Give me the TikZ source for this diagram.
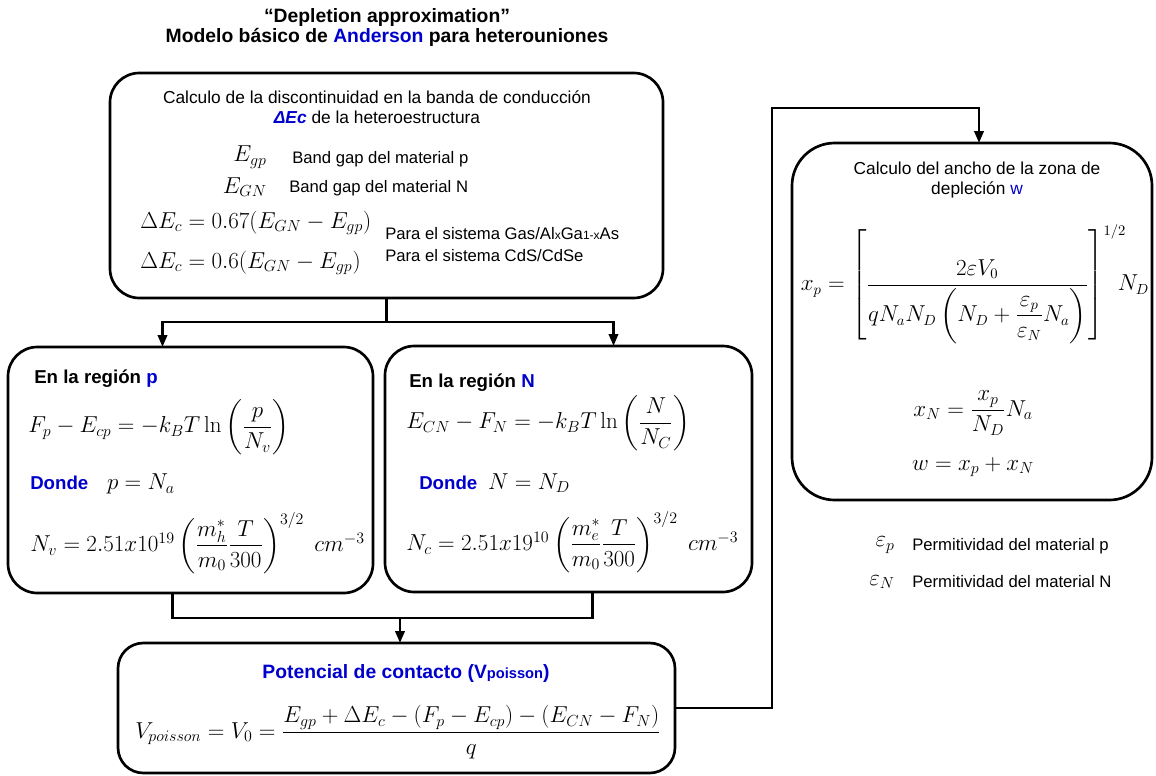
\documentclass[tikz,border=0pt]{standalone}
\usepackage{amsmath}
\usepackage[no-math]{fontspec}
\setmainfont{Liberation Sans}
\usetikzlibrary{arrows.meta,calc}
\definecolor{RegionBlue}{RGB}{0,0,204}

\begin{document}
\begin{tikzpicture}[
  x=0.75pt, y=-0.75pt,
  box/.style={draw, line width=2pt, rounded corners=22pt, inner sep=0pt, outer sep=0pt},
  wire/.style={line width=2pt},
  arr/.style={line width=2pt, -{Triangle[length=9pt,width=7pt]}},
  txt/.style={font=\fontsize{13}{15}\selectfont, inner sep=0pt},
  lbl/.style={font=\fontsize{12.5}{15}\selectfont, inner sep=0pt},
  head/.style={font=\fontsize{14}{17}\selectfont\bfseries, inner sep=0pt},
  eq/.style={font=\fontsize{17}{20}\selectfont, inner sep=0pt}
]
  \useasboundingbox (0,0) rectangle (1156,775);

  % Title
  \node[head, font=\fontsize{14.5}{15}\selectfont\bfseries, align=center] (title) at (387,27)
    {“Depletion approximation”\\Modelo básico de {\color{RegionBlue}Anderson} para heterouniones};

  % Boxes
  \node[box, minimum width=414.75pt, minimum height=168.75pt] (top) at (386.5,185.5) {};
  \node[box, minimum width=273.75pt, minimum height=184.5pt] (pbox) at (190.5,470) {};
  \node[box, minimum width=275.25pt, minimum height=184.5pt] (nbox) at (568.5,469) {};
  \node[box, rounded corners=19pt, minimum width=417.75pt, minimum height=97.5pt] (bot) at (396.5,708) {};
  \node[box, rounded corners=32pt, minimum width=270pt, minimum height=267.75pt] (depl) at (972,321.5) {};

  % Discontinuity in the conduction band
  \node[txt, align=center] (topHead) at (377,107)
    {Calculo de la discontinuidad en la banda de conducción\\
     {\color{RegionBlue}\bfseries\itshape ΔEc} de la heteroestructura};
  \node[eq, anchor=east] (egp) at (267,157) {$E_{gp}$};
  \node[lbl, anchor=west] (egpLbl) at (292,159) {Band gap del material p};
  \node[eq, anchor=east] (egn) at (267,187) {$E_{GN}$};
  \node[lbl, anchor=west] (egnLbl) at (289,188) {Band gap del material N};
  \node[eq, anchor=west] (dec1) at (140,223) {$\Delta E_c = 0.67(E_{GN} - E_{gp})$};
  \node[lbl, anchor=west] (dec1Lbl) at (385,234)
    {Para el sistema Gas/Al{\fontsize{9}{10}\selectfont x}Ga{\fontsize{9}{10}\selectfont 1-x}As};
  \node[eq, anchor=west] (dec2) at (140,263) {$\Delta E_c = 0.6(E_{GN} - E_{gp})$};
  \node[lbl, anchor=west] (dec2Lbl) at (385,256) {Para el sistema CdS/CdSe};

  % Region p
  \node[head, anchor=west] (pHead) at (34,379) {En la región {\color{RegionBlue}p}};
  \node[eq, anchor=west] (pFermi) at (28,427)
    {$F_p - E_{cp} = -k_B T\ln\left(\dfrac{p}{N_v}\right)$};
  \node[head, anchor=west] (pDonde) at (30,484)
    {{\color{RegionBlue}Donde}\hspace{14pt}\fontsize{17}{20}\selectfont$p = N_a$};
  \node[eq, anchor=west] (pNv) at (30,543)
    {$N_v = 2.51x10^{19}\left(\dfrac{m_h^*}{m_0}\dfrac{T}{300}\right)^{3/2}\; cm^{-3}$};

  % Region N
  \node[head, anchor=west] (nHead) at (409,383) {En la región {\color{RegionBlue}N}};
  \node[eq, anchor=west] (nFermi) at (406,423)
    {$E_{CN} - F_N = -k_B T\ln\left(\dfrac{N}{N_C}\right)$};
  \node[head, anchor=west] (nDonde) at (419,483)
    {{\color{RegionBlue}Donde}\hspace{8pt}\fontsize{17}{20}\selectfont$N = N_D$};
  \node[eq, anchor=west] (nNc) at (406,542)
    {$N_c = 2.51x19^{10}\left(\dfrac{m_e^*}{m_0}\dfrac{T}{300}\right)^{3/2}\; cm^{-3}$};

  % Contact potential
  \node[head, font=\fontsize{14.5}{17}\selectfont\bfseries, text=RegionBlue] (botHead) at (406,673)
    {Potencial de contacto (V{\fontsize{11}{12}\selectfont poisson})};
  \node[eq, anchor=west] (botEq) at (135,732)
    {$V_{poisson} = V_0 = \dfrac{E_{gp} + \Delta E_c - (F_p - E_{cp}) - (E_{CN} - F_N)}{q}$};

  % Depletion width
  \node[txt, align=center] (deplHead) at (977,180)
    {Calculo del ancho de la zona de\\depleción {\color{RegionBlue}w}};
  \node[eq, font=\fontsize{16}{19}\selectfont] (xpEq) at (975,284)
    {$x_p = \left[\dfrac{2\varepsilon V_0}{qN_aN_D\left(N_D + \dfrac{\varepsilon_p}{\varepsilon_N}N_a\right)}\right]^{1/2}\hspace{-9pt} N_D$};
  \node[eq] (xnEq) at (973,413) {$x_N = \dfrac{x_p}{N_D}N_a$};
  \node[eq] (wEq) at (973,467) {$w = x_p + x_N$};

  % Permittivities
  \node[eq, anchor=east] (epsP) at (895,545) {$\varepsilon_p$};
  \node[lbl, anchor=west] (epsPLbl) at (912,546) {Permitividad del material p};
  \node[eq, anchor=east] (epsN) at (895,582) {$\varepsilon_N$};
  \node[lbl, anchor=west] (epsNLbl) at (912,582) {Permitividad del material N};

  % Connectors
  \coordinate (split) at (386.5,322);
  \coordinate (merge) at (400,618);
  \coordinate (riser) at (772,108);
  \draw[wire] (top.south) -- (split);
  \draw[arr] (split) -| ($(pbox.north)+(-28,0)$);
  \draw[arr] (split) -| ($(nbox.north)+(45,0)$);
  \draw[wire] ($(pbox.south)+(-18,0)$) |- (merge) -| ($(nbox.south)+(24,0)$);
  \draw[arr] (merge) -- (bot.north -| merge);
  \draw[arr] (bot.east) -| (riser) -| ($(depl.north)+(7,0)$);
\end{tikzpicture}
\end{document}
